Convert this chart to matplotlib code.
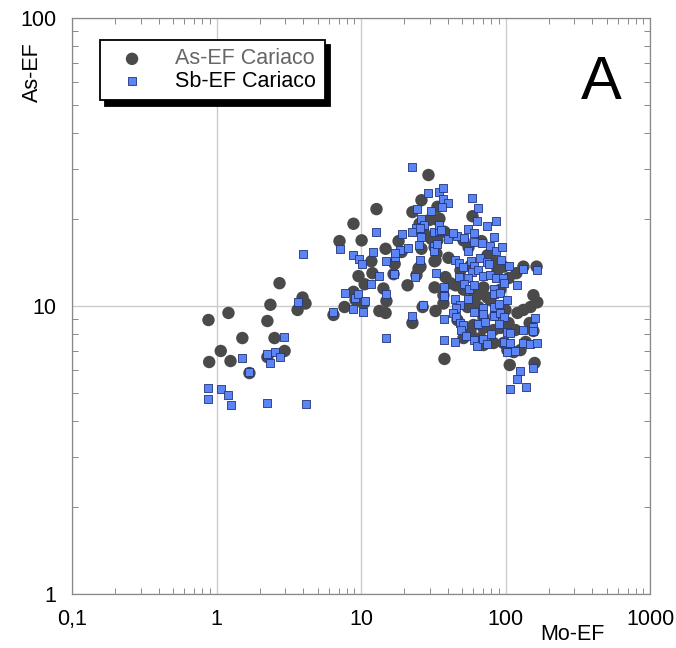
import numpy as np
import matplotlib
matplotlib.use("Agg")
from matplotlib import pyplot as plt
from matplotlib.ticker import FixedLocator, LogLocator, NullFormatter

plt.rcParams['font.family'] = ['Liberation Sans', 'DejaVu Sans']

# As-EF vs Mo-EF (Cariaco)
as_mo = [0.88, 0.89, 1.07, 1.21, 1.25, 1.51, 1.69, 2.25, 2.36, 2.52, 2.25, 2.96, 2.73,
         3.64, 3.94, 4.13, 6.45, 7.69, 7.10, 8.87, 10.1, 9.61, 10.6, 8.87, 9.16, 10.4,
         12.8, 11.8, 12.0, 14.8, 14.3, 13.4, 14.8, 29.3, 18.2, 19.1, 17.1, 16.8, 21.0,
         15.0, 22.7, 26.7, 32.8, 32.3, 26.2, 22.7, 26.2, 25.0, 24.2, 32.3, 33.3, 32.3,
         33.8, 25.4, 26.2, 33.8, 33.8, 29.8, 25.8, 37.8, 30.7, 27.1, 34.9, 59.1, 37.8,
         31.8, 51.2, 68.2, 55.5, 32.8, 40.3, 38.4, 41.6, 45.1, 51.2, 75.0, 81.3, 88.0,
         96.8, 70.4, 64.0, 75.0, 57.3, 54.6, 65.0, 37.2, 37.2, 46.5, 51.2, 60.1, 70.4,
         57.3, 51.2, 82.6, 92.3, 105, 119, 133, 164, 105, 121, 133, 149, 156, 166, 147,
         117, 96.8, 103, 114, 127, 138, 156, 67.1, 70.4, 82.6, 107, 159,
         60.1, 78.7, 85.3, 92.3, 70.4, 100, 48.8, 57.3]
as_ef = [8.94, 6.39, 6.98, 9.46, 6.44, 7.74, 5.85, 8.87, 10.1, 7.74, 6.65, 6.98, 12.0,
         9.69, 10.7, 10.2, 9.31, 9.92, 16.8, 19.3, 16.9, 12.7, 11.9, 11.2, 10.5, 10.2,
         21.7, 14.3, 13.0, 15.8, 11.5, 9.61, 9.46, 28.5, 16.8, 15.4, 14.0, 12.9, 11.8,
         10.4, 8.73, 9.92, 9.61, 11.6, 23.3, 21.2, 15.8, 13.5, 12.8, 14.3, 15.2, 16.0,
         16.9, 19.3, 18.4, 19.9, 22.1, 19.9, 13.7, 6.55, 17.1, 18.1, 20.1, 20.5, 18.1,
         17.5, 16.9, 16.8, 16.0, 14.4, 14.7, 12.6, 12.0, 11.8, 11.4, 15.0, 14.4, 13.3,
         13.7, 11.6, 10.9, 10.7, 10.5, 9.92, 9.92, 10.9, 10.2, 8.94, 8.46, 8.59, 8.39,
         8.06, 7.74, 8.25, 8.39, 12.5, 13.0, 13.7, 13.7, 8.73, 9.46, 9.69, 9.92, 10.9,
         10.3, 8.73, 8.25, 7.44, 7.03, 6.92, 7.03, 7.50, 8.19, 7.74, 7.32, 7.44, 6.24,
         6.34, 11.2, 10.5, 9.31, 11.4, 9.09, 9.69, 13.3, 13.8]

# Sb-EF vs Mo-EF (Cariaco)
sb_mo = [0.88, 0.88, 1.07, 1.21, 1.25, 1.51, 1.69, 2.25, 2.36, 2.52, 2.73, 2.91, 2.25,
         4.13, 3.94, 3.64, 6.45, 7.10, 7.69, 8.87, 9.16, 9.46, 10.4, 10.6, 8.87, 9.61,
         10.1, 12.2, 12.8, 13.4, 11.8, 14.8, 14.8, 14.8, 22.7, 29.3, 34.4, 37.2, 24.6,
         30.3, 26.2, 27.5, 24.2, 22.4, 25.8, 26.2, 31.8, 34.4, 19.1, 25.0, 21.0, 18.5,
         17.1, 17.1, 31.8, 31.8, 33.8, 25.8, 32.8, 23.8, 16.8, 26.7, 22.7, 37.2, 40.3,
         36.6, 34.4, 35.5, 40.3, 46.5, 43.0, 37.8, 37.8, 37.8, 44.4, 59.1, 65.0, 64.0,
         85.3, 73.9, 54.6, 60.1, 52.0, 60.1, 69.3, 83.9, 78.7, 85.3, 95.3, 54.6, 44.4,
         47.3, 51.2, 57.3, 61.0, 67.1, 73.9, 76.3, 93.8, 105, 133, 164, 59.1, 65.0,
         70.4, 78.7, 85.3, 47.3, 54.6, 52.0, 56.3, 60.1, 96.8, 98.4, 121, 83.9, 82.6,
         92.3, 37.8, 44.4, 54.6, 103, 48.8, 45.8, 43.6, 60.1, 70.4, 82.6, 89.5, 70.4,
         82.6, 92.3, 98.4, 45.8, 48.1, 51.2, 65.0, 72.7, 89.5, 159, 156, 154, 133, 103,
         107, 49.6, 52.9, 80.0, 60.1, 64.0, 70.4, 98.4, 107, 102, 117, 133, 147, 164,
         75.0, 125, 156, 121, 138, 107]
sb_ef = [5.19, 4.75, 5.15, 4.91, 4.53, 6.60, 5.90, 6.81, 6.34, 6.92, 6.65, 7.80, 4.61,
         4.57, 15.2, 10.3, 9.53, 15.8, 11.1, 9.76, 10.7, 11.0, 9.53, 10.4, 15.0, 14.6,
         14.0, 15.4, 18.1, 12.7, 11.9, 14.3, 11.0, 7.74, 30.4, 24.7, 24.9, 25.7, 21.7,
         21.4, 20.1, 19.1, 18.7, 18.1, 18.7, 17.4, 18.1, 18.2, 17.8, 16.3, 15.9, 15.6,
         14.8, 15.3, 16.2, 15.5, 16.4, 14.4, 13.0, 12.6, 12.9, 10.1, 9.23, 23.5, 22.8,
         22.1, 19.1, 18.4, 17.1, 17.5, 17.9, 11.6, 9.02, 7.62, 7.50, 23.7, 21.9, 19.7,
         19.7, 19.0, 18.5, 17.9, 17.2, 16.7, 16.6, 17.4, 16.2, 15.5, 16.0, 15.5, 14.4,
         14.1, 13.7, 14.3, 13.8, 14.7, 14.2, 14.0, 14.4, 13.8, 13.4, 13.3, 13.1, 13.3,
         12.7, 12.8, 12.5, 12.6, 12.5, 11.9, 11.5, 11.8, 12.5, 12.0, 11.8, 11.5, 11.0,
         11.1, 10.8, 10.6, 10.6, 10.5, 10.1, 9.84, 9.46, 9.53, 9.84, 9.92, 10.2, 9.38,
         9.23, 9.46, 9.16, 9.16, 8.73, 8.59, 8.66, 8.80, 8.66, 9.09, 8.46, 8.19, 8.25, 8.12,
         8.06, 8.25, 7.87, 7.99, 7.62, 7.26, 7.68, 7.50, 7.44, 6.92, 6.98, 7.44, 7.38, 7.44,
         7.38, 5.95, 6.09, 5.58, 5.23, 5.15]

x_ticks = [0.1, 1, 10, 100, 1000]
x_labels = ['0,1', '1', '10', '100', '1000']
y_ticks = [1, 10, 100]
y_labels = ['1', '10', '100']

fig = plt.figure(figsize=(6.76, 6.48), dpi=100)
ax = fig.add_axes([72 / 676, 54 / 648, 578 / 676, 576 / 648])

ax.set_xscale('log')
ax.set_yscale('log')
ax.set_xlim(0.1, 1000)
ax.set_ylim(1, 100)

ax.scatter(as_mo, as_ef, s=80, marker='o', color='#4a4a4a', edgecolors='none',
           label='As-EF Cariaco', zorder=3)
ax.scatter(sb_mo, sb_ef, s=34, marker='s', color='#5b84f5', edgecolors='#22337a',
           linewidths=0.6, label='Sb-EF Cariaco', zorder=4)

ax.xaxis.set_major_locator(FixedLocator(x_ticks))
ax.set_xticklabels(x_labels)
ax.yaxis.set_major_locator(FixedLocator(y_ticks))
ax.set_yticklabels(y_labels)
ax.xaxis.set_minor_locator(LogLocator(base=10, subs=np.arange(2, 10)))
ax.yaxis.set_minor_locator(LogLocator(base=10, subs=np.arange(2, 10)))
ax.xaxis.set_minor_formatter(NullFormatter())
ax.yaxis.set_minor_formatter(NullFormatter())

ax.tick_params(which='both', direction='in', top=True, right=True, color='#888888')
ax.tick_params(which='major', length=0, labelsize=15.5, pad=11)
ax.tick_params(which='minor', length=4, width=0.7)
ax.grid(True, which='major', color='#cccccc', lw=1)
ax.set_axisbelow(True)
for sp in ax.spines.values():
    sp.set_color('#888888')
    sp.set_linewidth(0.9)

fig.text(32 / 676, 1 - 72 / 648, 'As-EF', rotation=90, fontsize=15.5,
         ha='center', va='center')
fig.text(572 / 676, 1 - 634 / 648, 'Mo-EF', fontsize=15.5, ha='center', va='center')
ax.text(0.915, 0.935, 'A', transform=ax.transAxes, fontsize=44, ha='center', va='top')

leg = ax.legend(loc='upper left', bbox_to_anchor=(0.048, 0.962), borderaxespad=0,
                fontsize=15.5, frameon=True, fancybox=False, edgecolor='black',
                handletextpad=0.9, borderpad=0.4, labelspacing=0.05, handlelength=2.2,
                shadow={'color': 'black', 'alpha': 1, 'ox': 4, 'oy': -4})
leg.get_frame().set_linewidth(1.3)
leg.get_texts()[0].set_color('#666666')

fig.savefig('out.png', dpi=100)
